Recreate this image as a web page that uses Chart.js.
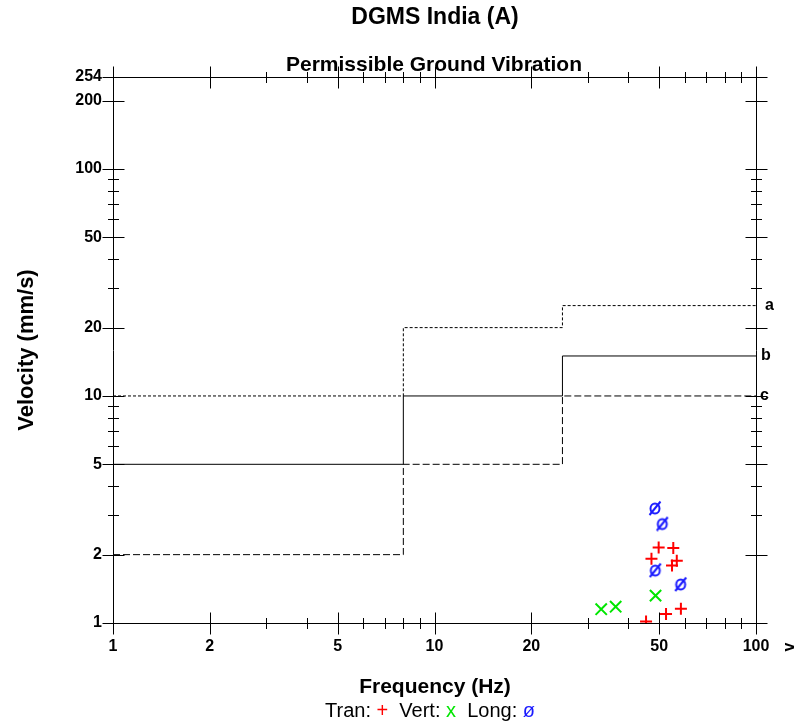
<!DOCTYPE html>
<html>
<head>
<meta charset="utf-8">
<script src="https://cdn.jsdelivr.net/npm/chart.js@4"></script>
<style>
  html, body { margin: 0; padding: 0; background: #fff; }
  #wrap { width: 809px; height: 725px; }
</style>
</head>
<body>
<div id="wrap"><canvas id="chart" width="809" height="725"></canvas></div>
<script>
const FONT = 'Arial, "Liberation Sans", sans-serif';

// tick values
const xTickLabels = [1, 2, 5, 10, 20, 50, 100];
const yTickLabels = [1, 2, 5, 10, 20, 50, 100, 200, 254];
const xMinorTicks = [3, 4, 6, 7, 8, 9, 30, 40, 60, 70, 80, 90];
const yMinorTicks = [3, 4, 6, 7, 8, 9, 30, 40, 60, 70, 80, 90];

// limit curves a, b, c (step lines)
const limitFreq = [1, 8, 8, 25, 25, 100];
const limitAVel = [10, 10, 20, 20, 25, 25];
const limitBVel = [5, 5, 10, 10, 15, 15];
const limitCVel = [2, 2, 5, 5, 10, 10];
const limitNames = ["a", "b", "c"];

// measured events
const tranFreq = [49.8, 55.3, 47.3, 56.7, 54.8, 58.4, 52.5, 45.5];
const tranVel  = [2.15, 2.14, 1.92, 1.88, 1.79, 1.156, 1.096, 1.016];
const vertFreq = [33.0, 36.6, 48.7];
const vertVel  = [1.15, 1.18, 1.32];
const longFreq = [48.5, 51.1, 48.6, 58.3];
const longVel  = [3.21, 2.74, 1.71, 1.485];

const RED = "#ff0000", GREEN = "#00e600", BLUE = "#1a1aff";

function pts(xs, ys) {
    return xs.map((x, i) => ({ x: x, y: ys[i] }));
}

// blue "ø" marker
function makeSlashO() {
    const c = document.createElement("canvas");
    c.width = 16; c.height = 16;
    const g = c.getContext("2d");
    g.strokeStyle = BLUE;
    g.lineWidth = 2;
    g.beginPath();
    g.ellipse(8, 8.5, 4.5, 5, 0, 0, Math.PI * 2);
    g.stroke();
    g.beginPath();
    g.moveTo(2.5, 15);
    g.lineTo(13.5, 1.5);
    g.stroke();
    return c;
}

/* =========================
   frame, ticks and texts
========================= */
const framePlugin = {
    id: "frame",
    beforeDatasetsDraw(chart) {
        const ctx = chart.ctx;
        const a = chart.chartArea;
        const sx = chart.scales.x, sy = chart.scales.y;
        const L = Math.round(a.left) + 0.5, R = Math.round(a.right) + 0.5;
        const T = Math.round(a.top) + 0.5, B = Math.round(a.bottom) + 0.5;
        ctx.save();
        ctx.strokeStyle = "#000";
        ctx.lineWidth = 1;
        ctx.setLineDash([]);
        ctx.beginPath();
        ctx.rect(L, T, R - L, B - T);

        const tickX = (v, len) => {
            const px = Math.round(sx.getPixelForValue(v)) + 0.5;
            ctx.moveTo(px, T - len); ctx.lineTo(px, T + len);
            ctx.moveTo(px, B - len); ctx.lineTo(px, B + len);
        };
        const tickY = (v, len) => {
            const py = Math.round(sy.getPixelForValue(v)) + 0.5;
            ctx.moveTo(L - len, py); ctx.lineTo(L + len, py);
            ctx.moveTo(R - len, py); ctx.lineTo(R + len, py);
        };
        xTickLabels.forEach(v => tickX(v, 11));
        xMinorTicks.forEach(v => tickX(v, 5.5));
        yTickLabels.forEach(v => tickY(v, 11));
        yMinorTicks.forEach(v => tickY(v, 5.5));
        ctx.stroke();
        ctx.restore();
    },
    afterDraw(chart) {
        const ctx = chart.ctx;
        const a = chart.chartArea;
        const sy = chart.scales.y;
        ctx.save();
        ctx.fillStyle = "#000";
        ctx.textAlign = "center";
        ctx.textBaseline = "alphabetic";

        ctx.font = "bold 23px " + FONT;
        ctx.fillText("DGMS India (A)", 435, 24);
        ctx.font = "bold 21px " + FONT;
        ctx.fillText("Permissible Ground Vibration", 434, 71);

        ctx.font = "bold 21px " + FONT;
        ctx.fillText("Frequency (Hz)", 435, 693);

        ctx.save();
        ctx.translate(27, 350);
        ctx.rotate(-Math.PI / 2);
        ctx.font = "bold 22px " + FONT;
        ctx.textBaseline = "middle";
        ctx.fillText("Velocity (mm/s)", 0, 0);
        ctx.restore();

        // the small rotated "v" at bottom right
        ctx.save();
        ctx.translate(790, 647);
        ctx.rotate(-Math.PI / 2);
        ctx.font = "bold 16px " + FONT;
        ctx.textBaseline = "middle";
        ctx.fillText("v", 0, 0);
        ctx.restore();

        // curve names
        ctx.font = "bold 16px " + FONT;
        ctx.textAlign = "left";
        ctx.textBaseline = "middle";
        const lastVals = [limitAVel, limitBVel, limitCVel].map(v => v[v.length - 1]);
        const offs = [9, 5, 4];
        lastVals.forEach((v, i) => {
            ctx.fillText(limitNames[i], a.right + offs[i], sy.getPixelForValue(v));
        });

        // legend line
        const parts = [
            ["Tran: ", "#000"], ["+", RED], ["  Vert: ", "#000"], ["x", GREEN],
            ["  Long: ", "#000"], ["ø", BLUE]
        ];
        ctx.font = "20px " + FONT;
        ctx.textBaseline = "alphabetic";
        const w = parts.reduce((s, p) => s + ctx.measureText(p[0]).width, 0);
        let x = 430 - w / 2;
        parts.forEach(p => {
            ctx.fillStyle = p[1];
            ctx.fillText(p[0], x, 717);
            x += ctx.measureText(p[0]).width;
        });
        ctx.restore();
    }
};

const lineStyle = (data, dash) => ({
    data: data,
    showLine: true,
    borderColor: "#000",
    borderWidth: 1,
    borderDash: dash,
    pointRadius: 0,
    fill: false
});

new Chart(document.getElementById("chart"), {
    type: "scatter",
    data: {
        datasets: [
            lineStyle(pts(limitFreq, limitCVel), [7, 3]),
            lineStyle(pts(limitFreq, limitAVel), [3, 2]),
            lineStyle(pts(limitFreq, limitBVel), []),
            {
                data: pts(tranFreq, tranVel),
                pointStyle: "cross",
                pointRadius: 6,
                borderColor: RED,
                borderWidth: 2
            },
            {
                data: pts(vertFreq, vertVel),
                pointStyle: "crossRot",
                pointRadius: 8,
                borderColor: GREEN,
                borderWidth: 2
            },
            {
                data: pts(longFreq, longVel),
                pointStyle: makeSlashO(),
                pointRadius: 8
            }
        ]
    },
    options: {
        responsive: false,
        animation: false,
        devicePixelRatio: 1,
        layout: { padding: { top: 77, right: 53, left: 0, bottom: 0 } },
        plugins: {
            legend: { display: false },
            tooltip: { enabled: false }
        },
        scales: {
            x: {
                type: "logarithmic",
                min: 1,
                max: 100,
                grid: { display: false },
                border: { display: false },
                afterBuildTicks: s => { s.ticks = xTickLabels.map(v => ({ value: v })); },
                afterFit: s => { s.height = 102; },
                ticks: {
                    autoSkip: false,
                    maxRotation: 0,
                    padding: 6,
                    color: "#000",
                    font: { family: FONT, size: 16, weight: "bold" },
                    callback: v => String(v)
                }
            },
            y: {
                type: "logarithmic",
                min: 1,
                max: 254,
                grid: { display: false },
                border: { display: false },
                afterBuildTicks: s => { s.ticks = yTickLabels.map(v => ({ value: v })); },
                afterFit: s => { s.width = 113; },
                ticks: {
                    autoSkip: false,
                    padding: 3,
                    color: "#000",
                    font: { family: FONT, size: 16, weight: "bold" },
                    callback: v => String(v)
                }
            }
        }
    },
    plugins: [framePlugin]
});
</script>
</body>
</html>
